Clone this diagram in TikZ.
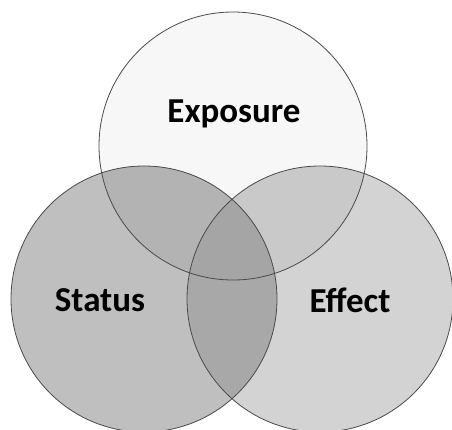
\documentclass[tikz,border=0pt]{standalone}
\usepackage{fontspec}
\setmainfont{Carlito}
\definecolor{cT}{HTML}{F7F7F7}
\definecolor{cL}{HTML}{BFBFBF}
\definecolor{cR}{HTML}{D3D3D3}
\definecolor{cTL}{HTML}{B3B3B3}
\definecolor{cTR}{HTML}{C9C9C9}
\definecolor{cLR}{HTML}{A8A8A8}
\definecolor{cTLR}{HTML}{A5A5A5}
\definecolor{edge}{HTML}{4A4A4A}
\tikzset{
  label/.style={font=\bfseries\fontsize{35}{42}\selectfont, text=black, inner sep=0pt},
  ring/.style={draw=edge, line width=0.8pt}
}
\begin{document}
\begin{tikzpicture}[x=1pt,y=-1pt]
\useasboundingbox (0,0) rectangle (452,429);
\fill[white] (0,0) rectangle (452,429);
\clip (0,0) rectangle (452,429);
\def\rT{(233,146) circle[radius=134]}
\def\rL{(144,299) circle[radius=133]}
\def\rR{(320,299) circle[radius=133]}
\fill[cT] \rT;
\fill[cL] \rL;
\fill[cR] \rR;
\begin{scope}\clip \rT; \fill[cTL] \rL; \fill[cTR] \rR; \end{scope}
\begin{scope}\clip \rL; \fill[cLR] \rR; \clip \rT; \fill[cTLR] \rR; \end{scope}
\draw[ring] \rT;
\draw[ring] \rL;
\draw[ring] \rR;
\node[label] (exposure) at (234,114) {Exposure};
\node[label] (status) at (100,300) {Status};
\node[label] (effect) at (350,300) {Effect};
\end{tikzpicture}
\end{document}
